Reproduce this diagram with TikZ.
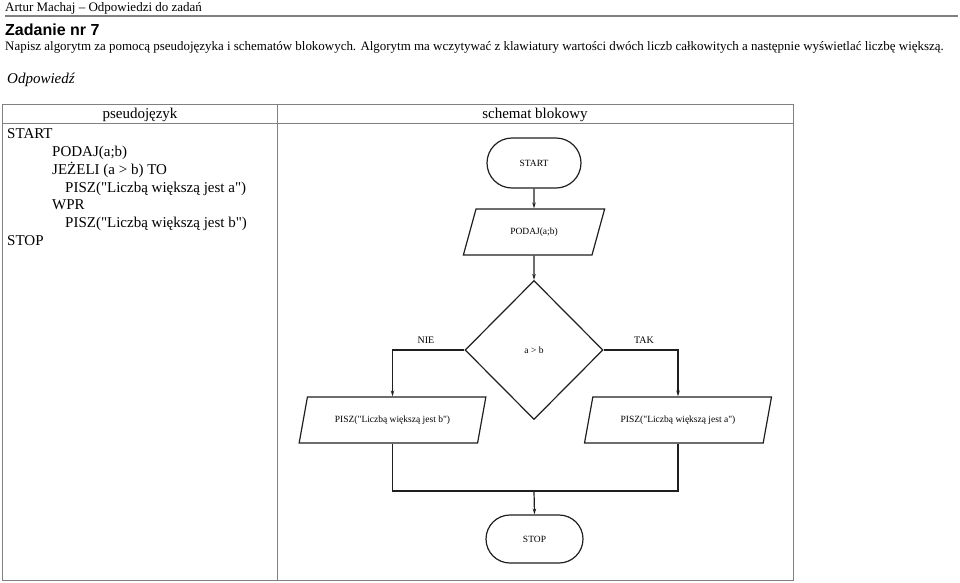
\documentclass[tikz,border=0pt]{standalone}
\usepackage{fontspec}
\setmainfont{Liberation Serif}
\newfontfamily\headsans{Liberation Sans}
\usetikzlibrary{shapes.geometric,shapes.misc,arrows.meta,calc}
\newcommand\qq{\textquotedbl}
\begin{document}
\begin{tikzpicture}[x=1pt,y=-1pt,
  tline/.style={draw=black!50,line width=1pt},
  fline/.style={draw=black!88,line width=1.2pt},
  arr/.style={fline,-{Stealth[length=6pt,width=3.5pt]}},
  term/.style={fline,rounded rectangle,inner sep=0pt,font=\fontsize{9.5}{11}\selectfont},
  iobox/.style={fline,trapezium,trapezium stretches=true,inner sep=0pt,font=\fontsize{9.5}{11}\selectfont},
  decbox/.style={fline,diamond,inner sep=0pt,font=\fontsize{9.5}{11}\selectfont},
  plain/.style={inner sep=0pt,anchor=base west},
  code/.style={plain,font=\fontsize{15}{18}\selectfont},
  lbl/.style={inner sep=0pt,font=\fontsize{10}{12}\selectfont}]
\useasboundingbox (0,0) rectangle (960,582);
% page header
\node[plain,font=\fontsize{13}{15}\selectfont] (runhead) at (5,11) {Artur Machaj -- Odpowiedzi do zadań};
\draw[draw=black!50,line width=1.5pt] (5,16) -- (958,16);
\node[plain,font=\headsans\bfseries\fontsize{16}{19}\selectfont] (title) at (5,35) {Zadanie nr 7};
\node[plain,font=\fontsize{12.95}{15}\selectfont] (task) at (5,50) {Napisz algorytm za pomocą pseudojęzyka i schematów blokowych. Algorytm ma wczytywać z klawiatury wartości dwóch liczb całkowitych a następnie wyświetlać liczbę większą.};
\node[plain,font=\itshape\fontsize{15}{18}\selectfont] (answer) at (7,83) {Odpowiedź};
% table
\draw[tline] (2.5,104) rectangle (793,580);
\draw[tline] (2.5,123) -- (793,123);
\draw[tline] (277,104) -- (277,580);
\node[inner sep=0pt,anchor=base,font=\fontsize{15}{18}\selectfont] (h1) at (140,118) {pseudojęzyk};
\node[inner sep=0pt,anchor=base,font=\fontsize{15}{18}\selectfont] (h2) at (535,118) {schemat blokowy};
% pseudocode
\node[code] (c1) at (7,138) {START};
\node[code] (c2) at (52,156) {PODAJ(a;b)};
\node[code] (c3) at (52,174) {JEŻELI (a > b) TO};
\node[code] (c4) at (65,192) {PISZ(\qq Liczbą większą jest a\qq)};
\node[code] (c5) at (52,209.5) {WPR};
\node[code] (c6) at (65,227.5) {PISZ(\qq Liczbą większą jest b\qq)};
\node[code] (c7) at (7,245.5) {STOP};
% flowchart
\node[term,minimum width=94pt,minimum height=50pt] (start) at (534,163) {START};
\node[iobox,trapezium left angle=59,trapezium right angle=121,minimum width=142pt,minimum height=46pt] (podaj) at (534,232) {PODAJ(a;b)};
\node[decbox,minimum width=138pt,minimum height=139pt] (dec) at (534,350) {a > b};
\node[iobox,trapezium left angle=57,trapezium right angle=123,minimum width=187pt,minimum height=46pt] (pisb) at (392.5,420) {PISZ(\qq Liczbą większą jest b\qq)};
\node[iobox,trapezium left angle=57,trapezium right angle=123,minimum width=187pt,minimum height=46pt] (pisa) at (678,420) {PISZ(\qq Liczbą większą jest a\qq)};
\node[term,minimum width=97pt,minimum height=48pt] (stop) at (534.5,539) {STOP};
\coordinate (join) at (534,491);
\node[lbl] (nie) at (426,340) {NIE};
\node[lbl] (tak) at (644,340) {TAK};
\draw[arr] (start) -- (podaj);
\draw[arr] (podaj) -- (dec);
\draw[arr] (dec.west) -| (pisb.north);
\draw[arr] (dec.east) -| (pisa.north);
\draw[fline] (pisb.south) |- (join);
\draw[fline] (pisa.south) |- (join);
\draw[arr] (join) -- (stop.north);
\end{tikzpicture}
\end{document}
